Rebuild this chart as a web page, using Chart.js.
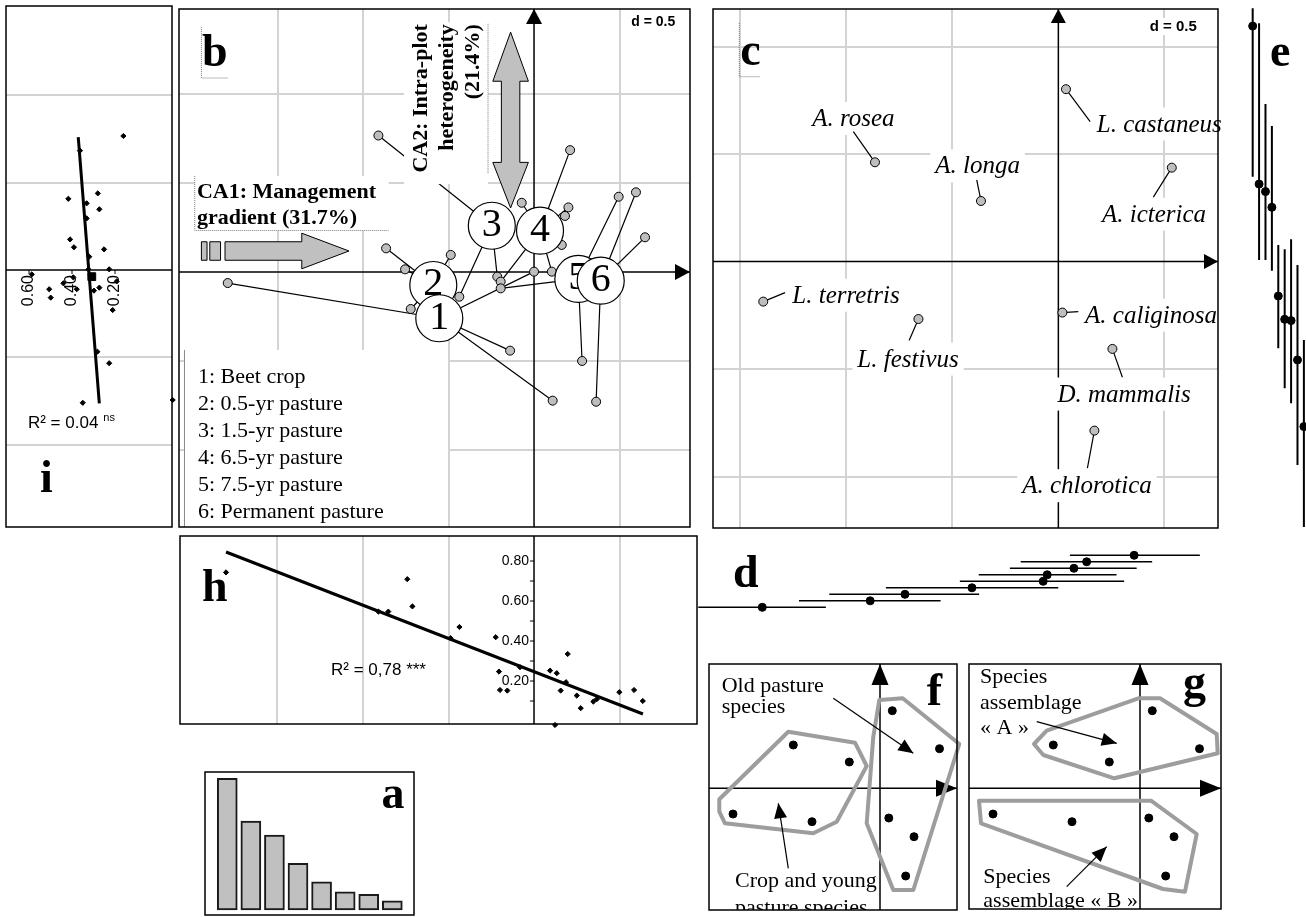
<!DOCTYPE html>
<html>
<head>
<meta charset="utf-8">
<title>Earthworm communities along a management gradient</title>
<script src="https://cdn.jsdelivr.net/npm/chart.js@4.4.1/dist/chart.umd.min.js"></script>
<style>
  html, body { margin: 0; padding: 0; background: #fff; }
  #page { position: relative; width: 1306px; height: 917px; overflow: hidden; background: #fff; }
  #page canvas { position: absolute; left: 0; top: 0; }
</style>
</head>
<body>
<div id="page">
  <canvas id="panelI" width="1306" height="917"></canvas>
  <canvas id="panelB" width="1306" height="917"></canvas>
  <canvas id="panelC" width="1306" height="917"></canvas>
  <canvas id="panelE" width="1306" height="917"></canvas>
  <canvas id="panelH" width="1306" height="917"></canvas>
  <canvas id="panelD" width="1306" height="917"></canvas>
  <canvas id="panelA" width="1306" height="917"></canvas>
  <canvas id="panelF" width="1306" height="917"></canvas>
  <canvas id="panelG" width="1306" height="917"></canvas>
</div>
<script>
const W = 1306, H = 917;
const SERIF = '"Liberation Serif", "Times New Roman", serif';
const SANS = '"Liberation Sans", Arial, sans-serif';
const GRID = '#d3d3d3';
const POINT_GREY = '#bebebe';
const HULL_GREY = '#9d9d9d';

// ---------- data ----------
// (a) eigenvalues, % of inertia of each CA axis
const caAxis = [1, 2, 3, 4, 5, 6, 7, 8];
const caInertia = [31.7, 21.4, 18.0, 11.2, 6.8, 4.4, 3.8, 2.2];

// (b) plots on CA1 x CA2, grouped by management type
const plotTypes = ["1: Beet crop", "2: 0.5-yr pasture", "3: 1.5-yr pasture",
  "4: 6.5-yr pasture", "5: 7.5-yr pasture", "6: Permanent pasture"];
const typeX = [-0.554, -0.589, -0.247, 0.035, 0.259, 0.390];
const typeY = [-0.260, -0.073, 0.260, 0.232, -0.039, -0.049];
const plotType = [0, 0, 0, 0, 1, 1, 1, 1, 2, 2, 2, 3, 3, 3, 3, 3, 3, 3, 4, 4, 4, 5, 5, 5];
const plotX = [-1.791, -0.140, 0.109, 0.000, -0.865, -0.754, -0.487, -0.721, -0.910, -0.437, -0.215,
  0.211, -0.072, 0.201, 0.181, 0.162, -0.195, 0.104, 0.281, -0.195, 0.495, 0.596, 0.649, 0.363];
const plotY = [-0.062, -0.442, -0.723, 0.002, 0.133, 0.015, 0.096, -0.208, 0.767, -0.139, -0.026,
  0.685, 0.389, 0.363, 0.315, 0.152, -0.054, 0.002, -0.500, -0.092, 0.423, 0.448, 0.195, -0.729];

// (c) species scores
const species = ["L. castaneus", "A. rosea", "A. longa", "A. icterica", "L. terretris",
  "L. festivus", "A. caliginosa", "D. mammalis", "A. chlorotica"];
const speciesX = [0.036, -0.865, -0.365, 0.535, -1.392, -0.660, 0.019, 0.255, 0.170];
const speciesY = [0.802, 0.462, 0.282, 0.437, -0.186, -0.267, -0.237, -0.406, -0.786];

// (d) species along CA1: mean and range
const dMean = [-1.396, -0.887, -0.723, -0.407, -0.071, -0.052, 0.074, 0.134, 0.358];
const dLow = [-1.698, -1.223, -1.080, -0.813, -0.464, -0.375, -0.228, -0.177, 0.055];
const dHigh = [-1.096, -0.555, -0.373, 0.000, 0.311, 0.275, 0.370, 0.443, 0.668];

// (e) species along CA2: mean and range
const eMean = [1.096, 0.361, 0.326, 0.253, -0.160, -0.268, -0.274, -0.457, -0.767];
const eLow = [0.395, 0.008, 0.008, -0.042, -0.403, -0.589, -0.659, -0.946, -1.234];
const eHigh = [1.179, 1.109, 0.733, 0.631, 0.078, 0.058, 0.104, -0.015, -0.364];

// (h) CA1 score against the explanatory variable
const hX = [-1.801, -0.741, -0.910, -0.852, -0.711, -0.436, -0.488, -0.224, -0.205, -0.199, -0.156, -0.082,
  0.094, 0.133, 0.197, 0.187, 0.156, 0.250, 0.273, 0.347, 0.367, 0.123, 0.499, 0.585, 0.636];
const hY = [0.743, 0.709, 0.547, 0.547, 0.573, 0.470, 0.414, 0.419, 0.247, 0.155, 0.152, 0.269,
  0.252, 0.239, 0.335, 0.194, 0.152, 0.127, 0.064, 0.097, 0.109, -0.020, 0.144, 0.155, 0.100];
const hFitX = [-1.801, 0.637];
const hFitY = [0.845, 0.035];
const hTickMarks = [0.1, 0.2, 0.3, 0.4, 0.5, 0.6, 0.7, 0.8];
const hTicks = [0.2, 0.4, 0.6, 0.8];

// (i) CA2 score against the explanatory variable (reversed axis)
const iX = [0.161, 0.363, 0.280, 0.417, 0.332, 0.273, 0.332, 0.409, 0.391, 0.251, 0.320, 0.324, 0.227, 0.587,
  0.394, 0.440, 0.506, 0.378, 0.499, 0.298, 0.273, 0.211, 0.192, 0.282, 0.227, 0.350, -0.068];
const iY = [0.766, 0.682, 0.438, 0.407, 0.381, 0.347, 0.295, 0.175, 0.130, 0.118, 0.076, 0.004, 0.004, -0.025,
  -0.042, -0.076, -0.110, -0.110, -0.158, -0.118, -0.101, -0.229, -0.065, -0.467, -0.533, -0.759, -0.743];
const iMeanX = [0.308];
const iMeanY = [-0.038];
const iFitX = [0.371, 0.273];
const iFitY = [0.759, -0.762];
const iTicks = [0.6, 0.4, 0.2];

// (f, g) schematic species positions and their hulls
const schemeX = [-0.867, -0.307, -1.470, -0.680, 0.123, 0.595, 0.088, 0.340, 0.257];
const schemeY = [0.433, 0.263, -0.257, -0.334, 0.776, 0.396, -0.297, -0.484, -0.877];
const hullYoungX = [-1.607, -0.917, -0.250, -0.133, -0.433, -0.667, -1.550, -1.607];
const hullYoungY = [-0.110, 0.566, 0.456, 0.223, -0.334, -0.450, -0.350, -0.234];
const hullOldX = [-0.007, 0.227, 0.793, 0.333, 0.133, -0.133, -0.067];
const hullOldY = [0.883, 0.900, 0.443, -1.017, -1.017, -0.350, 0.516];
const hullAX = [-1.060, -0.933, -0.017, 0.200, 0.767, 0.777, -0.257, -0.967];
const hullAY = [0.443, 0.576, 0.900, 0.900, 0.543, 0.350, 0.100, 0.333];
const hullBX = [-1.610, 0.110, 0.567, 0.450, 0.230, -1.590];
const hullBY = [-0.124, -0.124, -0.457, -1.034, -1.007, -0.350];

// ---------- drawing helpers ----------
const decorItems = {};

function head(ctx, x0, y0, x1, y1, len, half) {
  const a = Math.atan2(y1 - y0, x1 - x0);
  const c = Math.cos(a), s = Math.sin(a);
  const bx = x1 - c * len, by = y1 - s * len;
  ctx.fillStyle = '#000';
  ctx.beginPath();
  ctx.moveTo(x1, y1);
  ctx.lineTo(bx - s * half, by + c * half);
  ctx.lineTo(bx + s * half, by - c * half);
  ctx.closePath();
  ctx.fill();
}

function paint(chart, layer) {
  const items = decorItems[chart.canvas.id];
  if (!items) return;
  const ctx = chart.ctx;
  const X = v => chart.scales.x.getPixelForValue(v);
  const Y = v => chart.scales.y.getPixelForValue(v);
  const area = chart.chartArea;
  items.forEach(it => {
    if ((it.layer || 'top') !== layer) return;
    ctx.save();
    if (it.clip) {
      ctx.beginPath();
      ctx.rect(area.left, area.top, area.right - area.left, area.bottom - area.top);
      ctx.clip();
    }
    switch (it.kind) {
      case 'frame':
        ctx.strokeStyle = '#000';
        ctx.lineWidth = 1.5;
        ctx.strokeRect(area.left, area.top, area.right - area.left, area.bottom - area.top);
        break;
      case 'axis': {
        let x0, y0, x1, y1;
        if (it.dir === 'x') { x0 = area.left; x1 = area.right; y0 = y1 = Y(it.at); }
        else { x0 = x1 = X(it.at); y0 = area.bottom; y1 = area.top; }
        ctx.strokeStyle = '#000';
        ctx.lineWidth = it.width || 1.5;
        ctx.beginPath(); ctx.moveTo(x0, y0); ctx.lineTo(x1, y1); ctx.stroke();
        if (it.head) head(ctx, x0, y0, x1, y1, it.head[0], it.head[1]);
        break;
      }
      case 'ticks': {
        ctx.strokeStyle = '#000';
        ctx.lineWidth = 1;
        ctx.fillStyle = '#000';
        ctx.font = it.font;
        it.marks.forEach(v => {
          ctx.beginPath();
          if (it.dir === 'y') { ctx.moveTo(X(it.at) - it.len, Y(v)); ctx.lineTo(X(it.at), Y(v)); }
          else { ctx.moveTo(X(v), Y(it.at)); ctx.lineTo(X(v), Y(it.at) + it.len); }
          ctx.stroke();
        });
        it.labels.forEach(v => {
          ctx.save();
          ctx.textAlign = 'right';
          ctx.textBaseline = 'middle';
          if (it.dir === 'y') {
            ctx.fillText(v.toFixed(2), X(it.at) - it.gap, Y(v));
          } else {
            ctx.translate(X(v), Y(it.at) + it.gap);
            ctx.rotate(-Math.PI / 2);
            ctx.fillText(v.toFixed(2), 0, 0);
          }
          ctx.restore();
        });
        break;
      }
      case 'rect': {
        const xa = X(it.x0), xb = X(it.x1), ya = Y(it.y0), yb = Y(it.y1);
        ctx.fillStyle = it.fill || '#fff';
        ctx.fillRect(Math.min(xa, xb), Math.min(ya, yb), Math.abs(xb - xa), Math.abs(yb - ya));
        break;
      }
      case 'path': {
        ctx.beginPath();
        it.pts.forEach((p, k) => k ? ctx.lineTo(X(p[0]), Y(p[1])) : ctx.moveTo(X(p[0]), Y(p[1])));
        if (it.close) ctx.closePath();
        if (it.fill) { ctx.fillStyle = it.fill; ctx.fill(); }
        if (it.dash) ctx.setLineDash(it.dash);
        ctx.strokeStyle = it.color || '#000';
        ctx.lineWidth = it.width || 1;
        ctx.stroke();
        break;
      }
      case 'arrow': {
        const x0 = X(it.from[0]), y0 = Y(it.from[1]), x1 = X(it.to[0]), y1 = Y(it.to[1]);
        ctx.strokeStyle = '#000';
        ctx.lineWidth = it.width || 1.2;
        ctx.beginPath(); ctx.moveTo(x0, y0); ctx.lineTo(x1, y1); ctx.stroke();
        head(ctx, x0, y0, x1, y1, it.head[0], it.head[1]);
        break;
      }
      case 'text': {
        const lines = Array.isArray(it.text) ? it.text : [it.text];
        ctx.translate(X(it.x), Y(it.y));
        if (it.rot) ctx.rotate(it.rot * Math.PI / 180);
        ctx.font = it.font;
        ctx.textAlign = it.align || 'left';
        ctx.textBaseline = it.base || 'alphabetic';
        lines.forEach((t, k) => {
          const y = k * (it.lh || 0);
          const w = ctx.measureText(t).width;
          if (it.box) {
            const x0 = ctx.textAlign === 'center' ? -w / 2 : ctx.textAlign === 'right' ? -w : 0;
            ctx.fillStyle = '#fff';
            ctx.fillRect(x0 - it.box[0], y - it.box[1], w + it.box[0] + it.box[2], it.box[1] + it.box[3]);
          }
          ctx.fillStyle = it.color || '#000';
          ctx.fillText(t, 0, y);
          if (it.sup) {
            ctx.save();
            ctx.font = it.supFont;
            ctx.textAlign = 'left';
            ctx.fillText(it.sup, w + 5, y - 7);
            ctx.restore();
          }
        });
        break;
      }
    }
    ctx.restore();
  });
}

const decor = {
  id: 'decor',
  beforeDatasetsDraw(chart) { paint(chart, 'under'); },
  afterDatasetDraw(chart, args) {
    const ds = chart.data.datasets[args.index];
    if (ds && ds.label) paint(chart, ds.label);
  },
  afterDatasetsDraw(chart) { paint(chart, 'top'); }
};

function plain(min, max, extra) {
  return Object.assign({ type: 'linear', min, max, display: false, offset: false }, extra || {});
}

function gridded(min, max, hide, extra) {
  return Object.assign({
    type: 'linear', min, max, display: true, offset: false,
    border: { display: false },
    ticks: { display: false, stepSize: 0.5, includeBounds: false },
    grid: {
      drawTicks: false, lineWidth: 2,
      color: c => (!c.tick || hide.some(h => Math.abs(c.tick.value - h) < 1e-6)) ? 'rgba(0,0,0,0)' : GRID
    }
  }, extra || {});
}

const xy = (xs, ys) => xs.map((x, i) => ({ x, y: ys[i] }));

function dots(label, xs, ys, style) {
  return Object.assign({
    type: 'scatter', label, data: xy(xs, ys),
    pointRadius: 4, pointHoverRadius: 4,
    pointBackgroundColor: '#000', pointBorderColor: '#000', pointBorderWidth: 1
  }, style || {});
}

function segs(label, pairs, style) {
  const data = [];
  pairs.forEach(p => data.push({ x: p[0], y: p[1] }, { x: p[2], y: p[3] }, { x: null, y: null }));
  return Object.assign({
    type: 'line', label, data, borderColor: '#000', borderWidth: 1.2,
    pointRadius: 0, pointHoverRadius: 0, tension: 0, spanGaps: false
  }, style || {});
}

function outline(label, xs, ys) {
  const data = xy(xs, ys);
  data.push(data[0]);
  return {
    type: 'line', label, data, borderColor: HULL_GREY, borderWidth: 4,
    pointRadius: 0, pointHoverRadius: 0, tension: 0, borderJoinStyle: 'round', borderCapStyle: 'round'
  };
}

function panel(id, box, scales, datasets, items) {
  decorItems[id] = items;
  datasets.forEach((d, i) => {
    d.order = datasets.length - i;
    if (d.clip === undefined) d.clip = false;
  });
  return new Chart(document.getElementById(id), {
    type: 'scatter',
    data: { datasets },
    options: {
      responsive: false,
      animation: false,
      events: [],
      devicePixelRatio: 1,
      layout: {
        autoPadding: false,
        padding: { left: box[0], top: box[1], right: W - box[2], bottom: H - box[3] }
      },
      plugins: { legend: { display: false }, tooltip: { enabled: false } },
      scales
    },
    plugins: [decor]
  });
}

const bold46 = 'bold 46px ' + SERIF;

// ---------- (i) ----------
panel('panelI', [6, 6, 172, 527],
  { x: plain(-0.065, 0.707, { reverse: true }), y: gridded(-1.469, 1.509, [0, 1.5, -1.5]) },
  [
    segs('fit', [[iFitX[0], iFitY[0], iFitX[1], iFitY[1]]], { borderWidth: 3 }),
    dots('pts', iX, iY, { pointStyle: 'rectRot', pointRadius: 2.6 }),
    dots('mean', iMeanX, iMeanY, { pointStyle: 'rect', pointRadius: 5.5 })
  ],
  [
    { kind: 'axis', dir: 'x', at: 0, layer: 'under' },
    { kind: 'ticks', dir: 'x', at: 0, marks: iTicks, labels: iTicks, len: 4, gap: 5, font: '16px ' + SANS, layer: 'under' },
    { kind: 'text', x: 0.605, y: -0.903, text: 'R\u00b2 = 0.04', sup: 'ns', supFont: '11px ' + SANS, font: '17px ' + SANS },
    { kind: 'text', x: 0.549, y: -1.269, text: 'i', font: bold46 },
    { kind: 'frame' }
  ]);

// ---------- (b) ----------
const circleOrder = [1, 0, 2, 3, 4, 5];
panel('panelB', [179, 9, 690, 527],
  { x: gridded(-2.076, 0.912, [0, -2]), y: gridded(-1.433, 1.478, [0]) },
  [
    segs('links', plotX.map((x, i) => [typeX[plotType[i]], typeY[plotType[i]], x, plotY[i]])),
    dots('pts', plotX, plotY, { pointRadius: 4.5, pointBackgroundColor: POINT_GREY, pointBorderWidth: 1 })
  ].concat(circleOrder.map(k => dots('type' + k, [typeX[k]], [typeY[k]],
    { pointRadius: 23.5, pointHoverRadius: 23.5, pointBackgroundColor: '#fff', pointBorderWidth: 1.2 }))),
  [
    { kind: 'axis', dir: 'x', at: 0, head: [15, 8], layer: 'under' },
    { kind: 'axis', dir: 'y', at: 0, head: [15, 8], layer: 'under' },
    // legend
    { kind: 'rect', layer: 'pts', x0: -2.041, y0: -0.438, x1: -0.503, y1: -1.44 },
    { kind: 'path', layer: 'pts', pts: [[-2.044, -0.438], [-2.044, -1.433]], color: '#888' },
    { kind: 'text', layer: 'pts', x: -1.965, y: -0.624, text: plotTypes, lh: 27, font: '22px ' + SERIF },
    // CA1 caption
    { kind: 'rect', layer: 'pts', x0: -1.984, y0: 0.539, x1: -0.850, y1: 0.233 },
    { kind: 'path', layer: 'pts', pts: [[-1.984, 0.539], [-1.984, 0.233], [-0.850, 0.233]], color: '#777', dash: [1, 1] },
    { kind: 'text', layer: 'pts', x: -1.971, y: 0.417, text: ['CA1: Management', 'gradient (31.7%)'], lh: 26, font: 'bold 22px ' + SERIF },
    { kind: 'path', layer: 'pts', close: true, fill: '#c0c0c0', color: '#000',
      pts: [[-1.807, 0.170], [-1.358, 0.170], [-1.358, 0.218], [-1.082, 0.118], [-1.358, 0.018], [-1.358, 0.066], [-1.807, 0.066]] },
    { kind: 'path', layer: 'pts', close: true, fill: '#c0c0c0', color: '#000',
      pts: [[-1.945, 0.066], [-1.912, 0.066], [-1.912, 0.170], [-1.945, 0.170]] },
    { kind: 'path', layer: 'pts', close: true, fill: '#c0c0c0', color: '#000',
      pts: [[-1.896, 0.066], [-1.833, 0.066], [-1.833, 0.170], [-1.896, 0.170]] },
    // CA2 caption
    { kind: 'rect', layer: 'pts', x0: -0.760, y0: 1.404, x1: -0.269, y1: 0.494 },
    { kind: 'path', layer: 'pts', pts: [[-0.269, 1.395], [-0.269, 0.551]], color: '#777', dash: [1, 1] },
    { kind: 'text', layer: 'pts', x: -0.626, y: 1.393, rot: -90, align: 'right',
      text: ['CA2: Intra-plot', 'heterogeneity', '(21.4%)'], lh: 26, font: 'bold 22px ' + SERIF },
    { kind: 'path', layer: 'pts', close: true, fill: '#c0c0c0', color: '#000',
      pts: [[-0.137, 1.348], [-0.033, 1.072], [-0.083, 1.072], [-0.083, 0.616], [-0.033, 0.616], [-0.137, 0.360],
        [-0.241, 0.616], [-0.191, 0.616], [-0.191, 1.072], [-0.241, 1.072]] },
    // panel tag and scale
    { kind: 'text', layer: 'pts', x: -1.942, y: 1.157, text: 'b', font: bold46 },
    { kind: 'path', layer: 'pts', pts: [[-1.945, 1.376], [-1.945, 1.090], [-1.789, 1.090]], color: '#777', dash: [1, 1] },
    { kind: 'text', layer: 'pts', x: 0.826, y: 1.380, text: 'd = 0.5', align: 'right', font: 'bold 14px ' + SANS },
  ].concat(plotTypes.map((t, k) => ({
    kind: 'text', layer: 'type' + k, x: typeX[k], y: typeY[k], text: String(k + 1),
    align: 'center', base: 'middle', font: '40px ' + SERIF
  }))).concat([{ kind: 'frame' }]));

// ---------- (c) ----------
const speciesTag = [
  { x: 0.181, y: 0.605, align: 'left', lx: 0.150, ly: 0.651 },
  { x: -0.967, y: 0.631, align: 'center', lx: -0.967, ly: 0.605 },
  { x: -0.381, y: 0.411, align: 'center', lx: -0.385, ly: 0.380 },
  { x: 0.451, y: 0.186, align: 'center', lx: 0.448, ly: 0.300 },
  { x: -1.255, y: -0.191, align: 'left', lx: -1.289, ly: -0.144 },
  { x: -0.709, y: -0.488, align: 'center', lx: -0.704, ly: -0.367 },
  { x: 0.126, y: -0.284, align: 'left', lx: 0.094, ly: -0.233 },
  { x: 0.310, y: -0.651, align: 'center', lx: 0.302, ly: -0.538 },
  { x: 0.135, y: -1.077, align: 'center', lx: 0.137, ly: -0.961 }
];
panel('panelC', [713, 9, 1218, 528],
  { x: gridded(-1.629, 0.753, [0]), y: gridded(-1.239, 1.175, [0]) },
  [
    segs('leaders', species.map((s, i) => [speciesX[i], speciesY[i], speciesTag[i].lx, speciesTag[i].ly])),
    dots('pts', speciesX, speciesY, { pointRadius: 4.5, pointBackgroundColor: POINT_GREY, pointBorderWidth: 1 })
  ],
  [
    { kind: 'axis', dir: 'x', at: 0, head: [14, 7.5], layer: 'under' },
    { kind: 'axis', dir: 'y', at: 0, head: [14, 7.5], layer: 'under' }
  ].concat(species.map((s, i) => ({
    kind: 'text', layer: 'under', x: speciesTag[i].x, y: speciesTag[i].y, text: s, align: speciesTag[i].align,
    font: 'italic 25px ' + SERIF, box: [5, 24, 5, 9]
  }))).concat([
    { kind: 'text', x: -1.501, y: 0.915, text: 'c', font: bold46 },
    { kind: 'path', pts: [[-1.505, 1.110], [-1.505, 0.860], [-1.407, 0.860]], color: '#777', dash: [1, 1] },
    { kind: 'text', layer: 'under', x: 0.653, y: 1.073, text: 'd = 0.5', align: 'right', font: 'bold 15px ' + SANS, box: [3, 13, 3, 4] },
    { kind: 'frame' }
  ]));

// ---------- (e) ----------
const eRank = eMean.map((m, i) => i);
panel('panelE', [1245, 5, 1306, 530],
  { x: plain(-1.2, 8.33), y: plain(-1.248, 1.194) },
  [
    segs('range', eMean.map((m, i) => [eRank[i], eLow[i], eRank[i], eHigh[i]]), { borderWidth: 2 }),
    dots('mean', eRank, eMean, { pointRadius: 4 })
  ],
  [{ kind: 'text', x: 2.7, y: 0.910, text: 'e', font: bold46 }]);

// ---------- (h) ----------
panel('panelH', [180, 536, 697, 724],
  { x: gridded(-2.070, 0.953, [0, -2]), y: plain(-0.015, 0.925) },
  [
    segs('fit', [[hFitX[0], hFitY[0], hFitX[1], hFitY[1]]], { borderWidth: 3 }),
    dots('pts', hX, hY, { pointStyle: 'rectRot', pointRadius: 2.6 })
  ],
  [
    { kind: 'axis', dir: 'y', at: 0, layer: 'under' },
    { kind: 'ticks', dir: 'y', at: 0, marks: hTickMarks, labels: hTicks, len: 4, gap: 5, font: '14px ' + SANS, layer: 'under' },
    { kind: 'text', x: -1.942, y: 0.60, text: 'h', font: bold46 },
    { kind: 'text', x: -1.187, y: 0.23, text: 'R\u00b2 = 0,78 ***', font: '17px ' + SANS },
    { kind: 'frame' }
  ]);

// ---------- (d) ----------
const dRank = dMean.map((m, i) => i);
panel('panelD', [690, 548, 1245, 612],
  { x: plain(-1.737, 0.881), y: plain(-0.72, 9.12) },
  [
    segs('range', dMean.map((m, i) => [dLow[i], dRank[i], dHigh[i], dRank[i]]), { borderWidth: 1.6 }),
    dots('mean', dMean, dRank, { pointRadius: 4 })
  ],
  [{ kind: 'text', x: -1.534, y: 3.12, text: 'd', font: bold46 }]);

// ---------- (a) ----------
panel('panelA', [205, 772, 414, 915],
  { x: plain(0.055, 8.92), y: plain(-1.2, 33.2) },
  [{
    type: 'bar', label: 'inertia', data: xy(caAxis, caInertia),
    backgroundColor: '#c0c0c0', borderColor: '#1a1a1a', borderWidth: 2, borderSkipped: false, barThickness: 20
  }],
  [
    { kind: 'text', x: 7.54, y: 24.5, text: 'a', font: bold46 },
    { kind: 'frame' }
  ]);

// ---------- (f) ----------
panel('panelF', [709, 664, 957, 910],
  { x: plain(-1.71, 0.77), y: plain(-1.217, 1.243) },
  [
    outline('young', hullYoungX, hullYoungY),
    outline('old', hullOldX, hullOldY),
    dots('pts', schemeX, schemeY, { pointRadius: 4 })
  ],
  [
    { kind: 'axis', dir: 'x', at: 0, head: [21, 8.5], layer: 'under' },
    { kind: 'axis', dir: 'y', at: 0, head: [21, 8.5], layer: 'under' },
    { kind: 'arrow', from: [-0.467, 0.90], to: [0.333, 0.35], head: [15, 6.5] },
    { kind: 'arrow', from: [-0.917, -0.80], to: [-1.017, -0.15], head: [15, 6.5] },
    { kind: 'text', x: -1.583, y: 0.966, text: ['Old pasture', 'species'], lh: 21.6, font: '22px ' + SERIF },
    { kind: 'text', x: -1.45, y: -0.984, text: ['Crop and young', 'pasture species'], lh: 27, font: '22px ' + SERIF, clip: true },
    { kind: 'text', x: 0.467, y: 0.833, text: 'f', font: bold46 },
    { kind: 'frame' }
  ]);

// ---------- (g) ----------
panel('panelG', [969, 664, 1221, 909],
  { x: plain(-1.71, 0.81), y: plain(-1.207, 1.243) },
  [
    outline('A', hullAX, hullAY),
    outline('B', hullBX, hullBY),
    dots('pts', schemeX, schemeY, { pointRadius: 4 })
  ],
  [
    { kind: 'axis', dir: 'x', at: 0, head: [21, 8.5], layer: 'under' },
    { kind: 'axis', dir: 'y', at: 0, head: [21, 8.5], layer: 'under' },
    { kind: 'arrow', from: [-1.033, 0.666], to: [-0.233, 0.45], head: [15, 6.5] },
    { kind: 'arrow', from: [-0.733, -0.984], to: [-0.333, -0.584], head: [15, 6.5] },
    { kind: 'text', x: -1.60, y: 1.05, text: ['Species', 'assemblage', '\u00ab A \u00bb'], lh: 25.3, font: '22px ' + SERIF },
    { kind: 'text', x: -1.567, y: -0.95, text: ['Species', 'assemblage \u00ab B \u00bb'], lh: 24, font: '22px ' + SERIF, clip: true },
    { kind: 'text', x: 0.43, y: 0.913, text: 'g', font: bold46 },
    { kind: 'frame' }
  ]);
</script>
</body>
</html>
